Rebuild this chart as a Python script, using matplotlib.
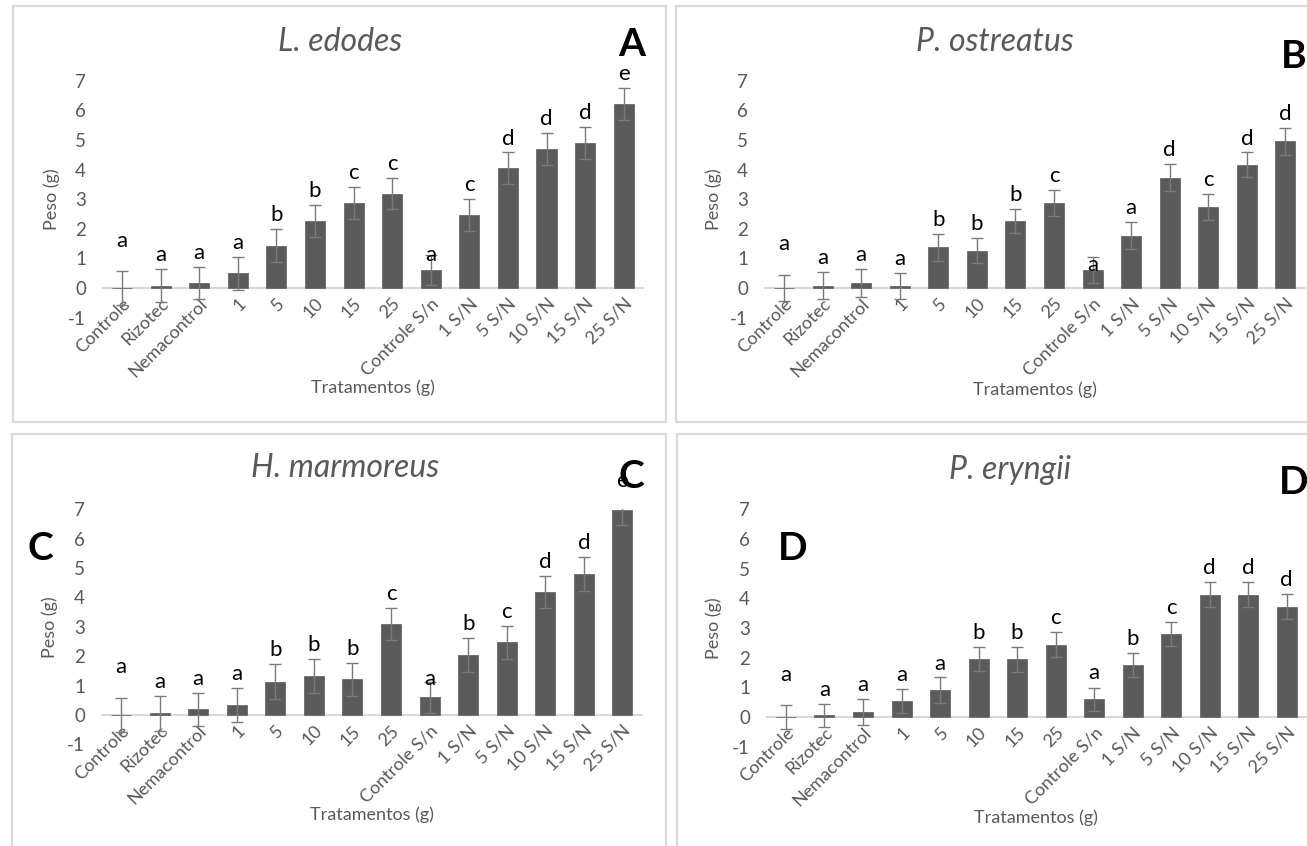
import matplotlib
matplotlib.use('Agg')
import matplotlib.pyplot as plt
import matplotlib.transforms as mtransforms
from matplotlib.patches import Rectangle
import numpy as np

plt.rcParams['font.family'] = ['Lato', 'DejaVu Sans']

categories = ['Controle', 'Rizotec', 'Nemacontrol', '1', '5', '10', '15', '25',
              'Controle S/n', '1 S/N', '5 S/N', '10 S/N', '15 S/N', '25 S/N']

edodes_mean = [0.00, 0.08, 0.17, 0.50, 1.43, 2.27, 2.86, 3.19, 0.61, 2.47, 4.04, 4.69, 4.90, 6.22]
edodes_err = [0.56, 0.55, 0.55, 0.56, 0.55, 0.54, 0.54, 0.53, 0.50, 0.54, 0.54, 0.55, 0.54, 0.53]
edodes_letters = ['a', 'a', 'a', 'a', 'b', 'b', 'c', 'c', 'a', 'c', 'd', 'd', 'd', 'e']

ostreatus_mean = [0.00, 0.08, 0.17, 0.06, 1.37, 1.26, 2.27, 2.88, 0.61, 1.77, 3.73, 2.74, 4.16, 4.96]
ostreatus_err = [0.45, 0.45, 0.46, 0.44, 0.45, 0.43, 0.41, 0.44, 0.45, 0.46, 0.45, 0.43, 0.42, 0.45]
ostreatus_letters = ['a', 'a', 'a', 'a', 'b', 'b', 'b', 'c', 'a', 'a', 'd', 'c', 'd', 'd']

marmoreus_mean = [0.00, 0.06, 0.19, 0.34, 1.13, 1.33, 1.21, 3.10, 0.60, 2.04, 2.47, 4.18, 4.80, 6.98]
marmoreus_err = [0.57, 0.59, 0.55, 0.57, 0.60, 0.57, 0.57, 0.55, 0.54, 0.57, 0.56, 0.55, 0.59, 0.53]
marmoreus_letters = ['a', 'a', 'a', 'a', 'b', 'b', 'b', 'c', 'a', 'b', 'c', 'd', 'd', 'e']

eryngii_mean = [0.00, 0.06, 0.17, 0.54, 0.90, 1.95, 1.95, 2.44, 0.60, 1.76, 2.80, 4.13, 4.13, 3.72]
eryngii_err = [0.40, 0.39, 0.43, 0.40, 0.43, 0.40, 0.42, 0.43, 0.39, 0.40, 0.41, 0.43, 0.43, 0.43]
eryngii_letters = ['a', 'a', 'a', 'a', 'a', 'b', 'b', 'c', 'a', 'b', 'c', 'd', 'd', 'd']

titles = ['L. edodes', 'P. ostreatus', 'H. marmoreus', 'P. eryngii']
yticks = [-1, 0, 1, 2, 3, 4, 5, 6, 7]

W, H = 1307, 846
fig = plt.figure(figsize=(W / 100, H / 100), dpi=100)
fig.patch.set_facecolor('white')


def fx(px):
    return px / W


def fy(py):
    return 1 - py / H


# panel frames (pixels: left, top, right, bottom)
frames = [(13, 6, 666, 422), (676, 6, 1330, 422), (12, 434, 666, 870), (677, 434, 1330, 870)]
for (l, t, r, b) in frames:
    fig.add_artist(Rectangle((fx(l), fy(b)), fx(r - l), (b - t) / H,
                             transform=fig.transFigure, fill=False,
                             edgecolor='#d9d9d9', linewidth=1.6, clip_on=False))

# axes in pixels: left, right, y of 7, y of -1
axes_px = [(102.7, 643.0, 80.8, 317.6),
           (764.7, 1304.7, 80.8, 317.6),
           (101.7, 641.7, 509.3, 744.4),
           (766.7, 1306.0, 509.5, 746.5)]

title_pos = [(340, 42), (995, 42), (345, 468), (1010, 470)]
ylabel_x = [52, 714, 50, 714]
xlabel_y = [388, 390, 815, 818]
tags = [('A', 632, 45), ('B', 1294, 57), ('C', 631, 476), ('D', 1294, 482)]
extra_tags = [('C', 40, 548), ('D', 793, 549)]

means = [edodes_mean, ostreatus_mean, marmoreus_mean, eryngii_mean]
errs = [edodes_err, ostreatus_err, marmoreus_err, eryngii_err]
letters = [edodes_letters, ostreatus_letters, marmoreus_letters, eryngii_letters]

# extra lift (data units) of the first letter and of the "Controle S/n" letter, per panel
first_lift = [0.55, 0.55, 0.6, 0.55]
ctrl_sn_lift = [-0.45, -0.75, -0.4, 0.02]

gray_text = '#595959'
x = np.arange(len(categories))

for k in range(4):
    l, r, ytop, ybot = axes_px[k]
    ax = fig.add_axes([fx(l), fy(ybot), (r - l) / W, (ybot - ytop) / H])
    ax.set_facecolor('none')
    m = np.array(means[k])
    e = np.array(errs[k])
    ax.bar(x, m, width=0.52, color='#5b5b5b', edgecolor='#6a6a6a', linewidth=0.6, zorder=2)
    ax.errorbar(x, m, yerr=e, fmt='none', ecolor='#7a7a7a', elinewidth=1.0,
                capsize=4.5, capthick=1.0, zorder=3)
    for i in range(len(categories)):
        lift = first_lift[k] if i == 0 else (ctrl_sn_lift[k] if i == 8 else 0.0)
        ax.text(x[i], m[i] + e[i] + 0.47 + lift, letters[k][i],
                ha='center', va='center', fontsize=16, color='black',
                zorder=4, clip_on=False)
    ax.set_xlim(-0.5, len(categories) - 0.5)
    ax.set_ylim(-1, 7)
    ax.set_yticks(yticks)
    ax.set_yticklabels([str(v) for v in yticks])
    for s in ['top', 'right', 'left']:
        ax.spines[s].set_visible(False)
    ax.spines['bottom'].set_position(('data', 0))
    ax.spines['bottom'].set_color('#d9d9d9')
    ax.spines['bottom'].set_linewidth(1.5)
    ax.spines['bottom'].set_zorder(1)
    ax.tick_params(axis='both', length=0, colors=gray_text, labelsize=13.5)
    ax.tick_params(axis='y', pad=12)
    ax.set_xticks(x)
    ax.set_xticklabels(categories, rotation=45, ha='right', va='center',
                       rotation_mode='anchor', fontsize=13)
    offset = mtransforms.ScaledTranslation(4 / 72, -6 / 72, fig.dpi_scale_trans)
    for lab in ax.get_xticklabels():
        lab.set_transform(lab.get_transform() + offset)
    ax.set_ylabel('Peso (g)', color=gray_text, fontsize=13)
    ax.yaxis.set_label_coords((ylabel_x[k] - l) / (r - l), 0.5)
    ax.set_xlabel('Tratamentos (g)', color=gray_text, fontsize=13)
    ax.xaxis.set_label_coords(0.5, (ybot - xlabel_y[k]) / (ybot - ytop))
    ax.xaxis.label.set_va('center')
    ax.yaxis.label.set_va('center')
    tx, ty = title_pos[k]
    fig.text(fx(tx), fy(ty), titles[k], ha='center', va='center', fontsize=23,
             style='italic', color=gray_text)

for (t, px, py) in tags + extra_tags:
    fig.text(fx(px), fy(py), t, ha='center', va='center', fontsize=28,
             fontweight='bold', color='black', zorder=10)

fig.savefig('out.png', dpi=100, facecolor='white')
